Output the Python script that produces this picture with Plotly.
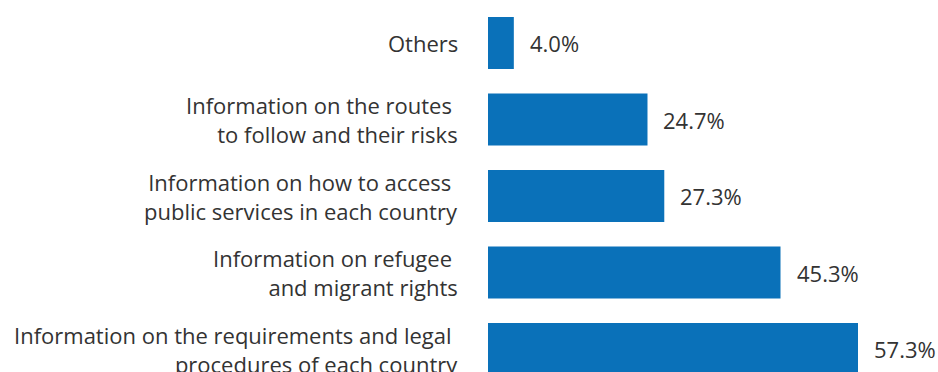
import plotly.graph_objects as go

categories = [
    "Others",
    "Information on the routes <br>to follow and their risks",
    "Information on how to access <br>public services in each country",
    "Information on refugee <br>and migrant rights",
    "Information on the requirements and legal <br>procedures of each country",
]
values = [4.0, 24.7, 27.3, 45.3, 57.3]
value_labels = ["4.0%", "24.7%", "27.3%", "45.3%", "57.3%"]

BAR_COLOR = "#0a71b9"
TEXT_COLOR = "#333333"
FONT = "Open Sans"
FONT_SIZE = 22

fig = go.Figure(
    go.Bar(
        x=values,
        y=list(range(len(categories))),
        orientation="h",
        marker=dict(color=BAR_COLOR, line=dict(width=0)),
        width=0.68,
        hoverinfo="skip",
    )
)

# value labels to the right of each bar
for i, (v, lbl) in enumerate(zip(values, value_labels)):
    fig.add_annotation(
        x=v, y=i, text=lbl, showarrow=False,
        xanchor="left", yanchor="middle", xshift=14,
        font=dict(family=FONT, size=FONT_SIZE, color=TEXT_COLOR),
    )

# category labels, right-aligned to the left of the bars
for i, cat in enumerate(categories):
    fig.add_annotation(
        x=0, xref="paper", y=i, yref="y", text=cat, showarrow=False,
        xanchor="right", yanchor="middle", align="right", xshift=-28,
        font=dict(family=FONT, size=FONT_SIZE, color=TEXT_COLOR),
    )

plot_w = 938 - 488
fig.update_layout(
    width=938, height=372,
    margin=dict(l=488, r=0, t=0, b=0),
    paper_bgcolor="white", plot_bgcolor="white",
    showlegend=False,
    font=dict(family=FONT, color=TEXT_COLOR, size=FONT_SIZE),
    xaxis=dict(range=[0, 57.3 * plot_w / 370], visible=False, fixedrange=True),
    yaxis=dict(
        range=[4.30, -0.562],
        visible=False, fixedrange=True,
    ),
)

fig.write_html("out.html")
